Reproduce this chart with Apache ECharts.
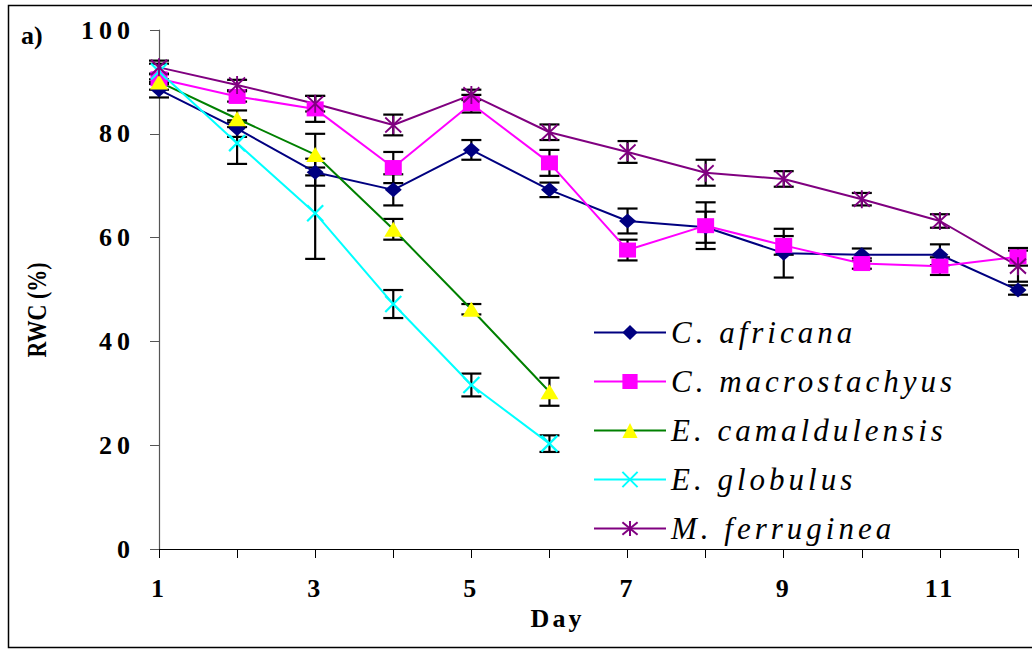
<!DOCTYPE html>
<html>
<head>
<meta charset="utf-8">
<title>RWC (%)</title>
<script src="https://cdn.jsdelivr.net/npm/echarts@6/dist/echarts.min.js"></script>
<style>
  html, body { margin: 0; padding: 0; background: #fff; }
  #chart { width: 1032px; height: 651px; }
  /* wide tracking for the serif labels */
  #chart text[style*="italic"] { letter-spacing: 4px; }
  #chart text[style*="bold"] { letter-spacing: 3px; }
  #chart text[style*="bolder"] { letter-spacing: 5px; }
</style>
</head>
<body>
<div id="chart"></div>
<script>
// Days of the drying period
const days = ['1', '2', '3', '4', '5', '6', '7', '8', '9', '10', '11', '12'];

// Relative water content (%) per species, with standard errors
const africana      = [88.5, 81.0, 72.6, 69.2, 76.9, 69.2, 63.2, 62.0, 57.0, 56.7, 56.7, 49.9];
const africanaErr   = [1.5, 1.6, 2.6, 3.0, 1.9, 1.4, 2.4, 3.0, 4.7, 1.2, 2.0, 0.9];
const macrostachyus = [90.6, 87.2, 84.8, 73.5, 85.8, 74.4, 57.6, 62.3, 58.5, 55.0, 54.5, 56.3];
const macroErr      = [1.0, 1.0, 2.5, 3.0, 1.7, 2.5, 2.0, 4.5, 1.8, 1.0, 1.7, 1.7];
const camaldulensis = [90.0, 82.9, 76.0, 61.6, 46.2, 30.3];
const camalErr      = [1.5, 1.6, 4.0, 2.0, 1.0, 2.7];
const globulus      = [92.0, 78.2, 64.7, 47.2, 31.6, 20.3];
const globErr       = [1.5, 4.0, 8.8, 2.7, 2.2, 1.6];
const ferruginea    = [92.8, 89.4, 85.8, 81.7, 87.5, 80.3, 76.5, 72.5, 71.3, 67.4, 63.2, 54.5];
const ferrErr       = [1.3, 1.0, 1.5, 2.0, 1.0, 1.5, 2.1, 2.5, 1.5, 1.2, 1.3, 3.0];

const yTicks = [0, 20, 40, 60, 80, 100];

const SERIF = 'Liberation Serif, serif';

const crossPath = 'path://M0,0L10,10M10,0L0,10';
const starPath = 'path://M0,1L10,11M10,1L0,11M5,0L5,12';

const speciesList = [
  { name: 'C. africana', values: africana, err: africanaErr, line: '#000080', fill: '#000080', symbol: 'diamond', size: [17, 15], stroke: 0 },
  { name: 'C. macrostachyus', values: macrostachyus, err: macroErr, line: '#ff00ff', fill: '#ff00ff', symbol: 'rect', size: [17, 15], stroke: 0 },
  { name: 'E. camaldulensis', values: camaldulensis, err: camalErr, line: '#008000', fill: '#ffff00', symbol: 'triangle', size: [18, 15], stroke: 0 },
  { name: 'E. globulus', values: globulus, err: globErr, line: '#00ffff', fill: 'none', symbol: crossPath, size: [16, 16], stroke: 2.2 },
  { name: 'M. ferruginea', values: ferruginea, err: ferrErr, line: '#800080', fill: 'none', symbol: starPath, size: [16, 18], stroke: 2 }
];

function errorBarItem(params, api) {
  const x = api.value(0);
  const lo = api.coord([x, api.value(1)]);
  const hi = api.coord([x, api.value(2)]);
  const half = 10;
  const style = { stroke: '#000', lineWidth: 2.2 };
  return {
    type: 'group',
    children: [
      { type: 'line', shape: { x1: lo[0], y1: lo[1], x2: hi[0], y2: hi[1] }, style: style },
      { type: 'line', shape: { x1: lo[0] - half, y1: lo[1], x2: lo[0] + half, y2: lo[1] }, style: style },
      { type: 'line', shape: { x1: hi[0] - half, y1: hi[1], x2: hi[0] + half, y2: hi[1] }, style: style }
    ]
  };
}

const series = [];
speciesList.forEach(function (s) {
  series.push({
    type: 'custom',
    name: s.name + ' SE',
    z: 1,
    silent: true,
    renderItem: errorBarItem,
    data: s.values.map(function (v, i) { return [i, v - s.err[i], v + s.err[i]]; })
  });
});
speciesList.forEach(function (s) {
  series.push({
    type: 'line',
    name: s.name,
    z: 3,
    data: s.values,
    symbol: s.symbol,
    symbolSize: s.size,
    showAllSymbol: true,
    lineStyle: { color: s.line, width: 2 },
    itemStyle: {
      color: s.fill === 'none' ? 'rgba(0,0,0,0)' : s.fill,
      borderColor: s.stroke ? s.line : s.fill,
      borderWidth: s.stroke
    },
    emphasis: { disabled: true },
    animation: false
  });
});

const chart = echarts.init(document.getElementById('chart'), null, { renderer: 'svg' });
chart.setOption({
  animation: false,
  backgroundColor: '#fff',
  title: {
    text: 'a)',
    left: 16,
    top: 17,
    textStyle: { fontFamily: SERIF, fontWeight: 700, fontSize: 26, color: '#000' }
  },
  legend: {
    orient: 'vertical',
    left: 588,
    top: 312,
    itemWidth: 72,
    itemHeight: 19,
    itemGap: 18,
    selectedMode: false,
    data: speciesList.map(function (s) { return s.name; }),
    textStyle: { fontFamily: SERIF, fontStyle: 'italic', fontSize: 31, color: '#000' }
  },
  grid: { left: 159, right: 14, top: 30, bottom: 102, containLabel: false },
  xAxis: {
    type: 'category',
    data: days,
    boundaryGap: false,
    name: 'Day',
    nameLocation: 'middle',
    nameGap: 53,
    nameTextStyle: { fontFamily: SERIF, fontWeight: 'bold', fontSize: 26, color: '#000', padding: [0, 62, 0, 0] },
    axisLine: { lineStyle: { color: '#000', width: 1.2 } },
    axisTick: { show: true, interval: 0, length: 9, lineStyle: { color: '#000' } },
    axisLabel: { interval: 1, margin: 26, fontFamily: SERIF, fontWeight: 'bold', fontSize: 26, color: '#000' },
    splitLine: { show: false }
  },
  yAxis: {
    type: 'value',
    min: yTicks[0],
    max: yTicks[yTicks.length - 1],
    interval: 20,
    axisLine: { show: true, lineStyle: { color: '#555', width: 1.2 } },
    axisTick: { show: true, length: 9, lineStyle: { color: '#555' } },
    axisLabel: { margin: 24, fontFamily: SERIF, fontWeight: 'bolder', fontSize: 26, color: '#000' },
    splitLine: { show: false }
  },
  graphic: [
    {
      type: 'rect',
      shape: { x: 8.5, y: 5.5, width: 1040, height: 642 },
      style: { fill: 'none', stroke: '#000', lineWidth: 1.5 },
      silent: true
    },
    {
      type: 'text',
      x: 37,
      y: 310,
      rotation: Math.PI / 2,
      scaleY: 1.25,
      style: {
        text: 'RWC (%)',
        fontFamily: SERIF,
        fontWeight: 700,
        fontSize: 22,
        fill: '#000',
        align: 'center',
        verticalAlign: 'middle'
      },
      silent: true
    }
  ],
  series: series
});
</script>
</body>
</html>
